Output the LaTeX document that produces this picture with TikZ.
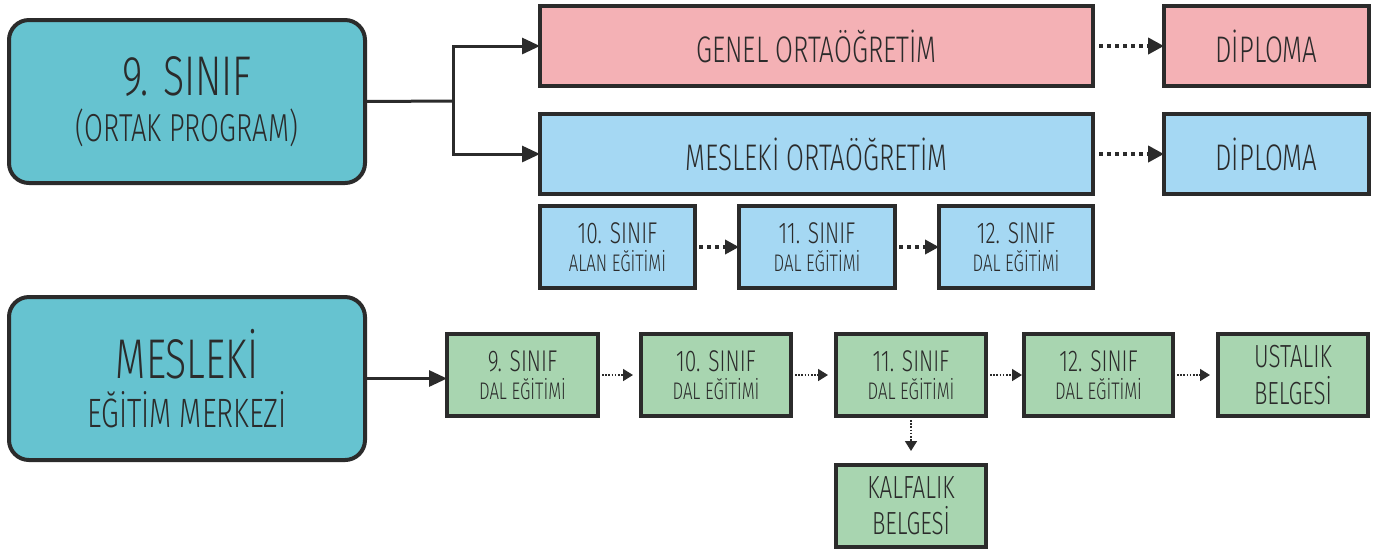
\documentclass[tikz,border=0pt]{standalone}
\usepackage{fontspec}
\setmainfont{Fira Sans}[UprightFont=* Light, FakeStretch=0.7]
\usetikzlibrary{arrows.meta}
\definecolor{ink}{HTML}{2B2B2B}
\definecolor{teal}{HTML}{66C3D0}
\definecolor{pink}{HTML}{F4B1B5}
\definecolor{sky}{HTML}{A5D8F3}
\definecolor{mint}{HTML}{A8D5B0}
\newcommand\bx[7]{\node[#6, minimum width={(#4-#2)*0.5pt}, minimum height={(#5-#3)*0.5pt}] (#1) at ({(#2+#4)/2},{(#3+#5)/2}) {#7};}
\newcommand\two[5]{{\fontsize{#1}{#1}\selectfont #3}\\[#5]{\fontsize{#2}{#2}\selectfont #4}}
\tikzset{
  base/.style={draw=ink, line width=2pt, inner sep=0pt, outer sep=0pt, text=ink, align=center},
  bigbox/.style={base, fill=teal, rounded corners=10pt},
  pinkbox/.style={base, fill=pink},
  bluebox/.style={base, fill=sky},
  greenbox/.style={base, fill=mint},
  solidarr/.style={draw=ink, line width=1.5pt, -{Triangle[length=9pt,width=8pt]}},
  thickdot/.style={draw=ink, line width=2pt, dash pattern=on 2pt off 2pt, -{Triangle[length=8pt,width=8pt]}},
  meddot/.style={draw=ink, line width=2pt, dash pattern=on 2pt off 2pt, -{Triangle[length=7pt,width=7pt]}},
  thindot/.style={draw=ink, line width=0.8pt, dash pattern=on 0.8pt off 0.8pt, -{Triangle[length=5pt,width=6pt]}},
}
\begin{document}
\begin{tikzpicture}[x=0.5pt,y=-0.5pt]
\useasboundingbox[fill=white] (0,0) rectangle (1386,554);
% big boxes
\bx{ortak}{9}{20}{365}{183}{bigbox}{\two{28}{19.5}{9. SINIF}{(ORTAK PROGRAM)}{5pt}}
\bx{mem}{9}{297}{365}{460}{bigbox}{\two{28}{20.5}{MESLEKİ}{EĞİTİM MERKEZİ}{5pt}}
% upper
\bx{genel}{540}{6}{1093}{86}{pinkbox, font=\fontsize{18.5}{20}\selectfont}{GENEL ORTAÖĞRETİM}
\bx{dip1}{1164}{6}{1369}{86}{pinkbox, font=\fontsize{18.5}{20}\selectfont}{DİPLOMA}
\bx{mesort}{540}{114}{1093}{194}{bluebox, font=\fontsize{18.5}{20}\selectfont}{MESLEKİ ORTAÖĞRETİM}
\bx{dip2}{1164}{114}{1369}{194}{bluebox, font=\fontsize{18.5}{20}\selectfont}{DİPLOMA}
% small blue
\bx{b10}{540}{206}{695}{288}{bluebox}{\two{15}{12}{10. SINIF}{ALAN EĞİTİMİ}{2pt}}
\bx{b11}{739}{206}{895}{288}{bluebox}{\two{15}{12}{11. SINIF}{DAL EĞİTİMİ}{2pt}}
\bx{b12}{939}{206}{1093}{288}{bluebox}{\two{15}{12}{12. SINIF}{DAL EĞİTİMİ}{2pt}}
% green
\bx{g9}{447}{334}{598}{416}{greenbox}{\two{15}{12}{9. SINIF}{DAL EĞİTİMİ}{2pt}}
\bx{g10}{641}{334}{791}{416}{greenbox}{\two{15}{12}{10. SINIF}{DAL EĞİTİMİ}{2pt}}
\bx{g11}{836}{334}{986}{416}{greenbox}{\two{15}{12}{11. SINIF}{DAL EĞİTİMİ}{2pt}}
\bx{g12}{1024}{334}{1173}{416}{greenbox}{\two{15}{12}{12. SINIF}{DAL EĞİTİMİ}{2pt}}
\bx{ust}{1218}{334}{1368}{416}{greenbox}{\two{16}{16}{USTALIK}{BELGESİ}{3pt}}
\bx{kal}{836}{465}{986}{547}{greenbox}{\two{16}{16}{KALFALIK}{BELGESİ}{3pt}}
% connectors
\coordinate (split) at (453,101);
\draw[draw=ink, line width=1.5pt] (ortak.east) -- (split);
\draw[solidarr] (split) |- (genel.west);
\draw[solidarr] (split) |- (mesort.west);
\draw[solidarr] (mem.east) -- (mem.east -| g9.west);
\draw[thickdot] ([xshift=3pt]genel.east) -- (dip1.west);
\draw[thickdot] ([xshift=3pt]mesort.east) -- (dip2.west);
\draw[meddot] ([xshift=2pt]b10.east) -- (b11.west);
\draw[meddot] ([xshift=2pt]b11.east) -- (b12.west);
\draw[thindot] ([xshift=2pt]g9.east) -- ([xshift=-4pt]g10.west);
\draw[thindot] ([xshift=2pt]g10.east) -- ([xshift=-4pt]g11.west);
\draw[thindot] ([xshift=2pt]g11.east) -- ([xshift=-1pt]g12.west);
\draw[thindot] ([xshift=2pt]g12.east) -- ([xshift=-4pt]ust.west);
\draw[thindot] ([yshift=-2pt]g11.south) -- ([yshift=7pt]kal.north);
\end{tikzpicture}
\end{document}
